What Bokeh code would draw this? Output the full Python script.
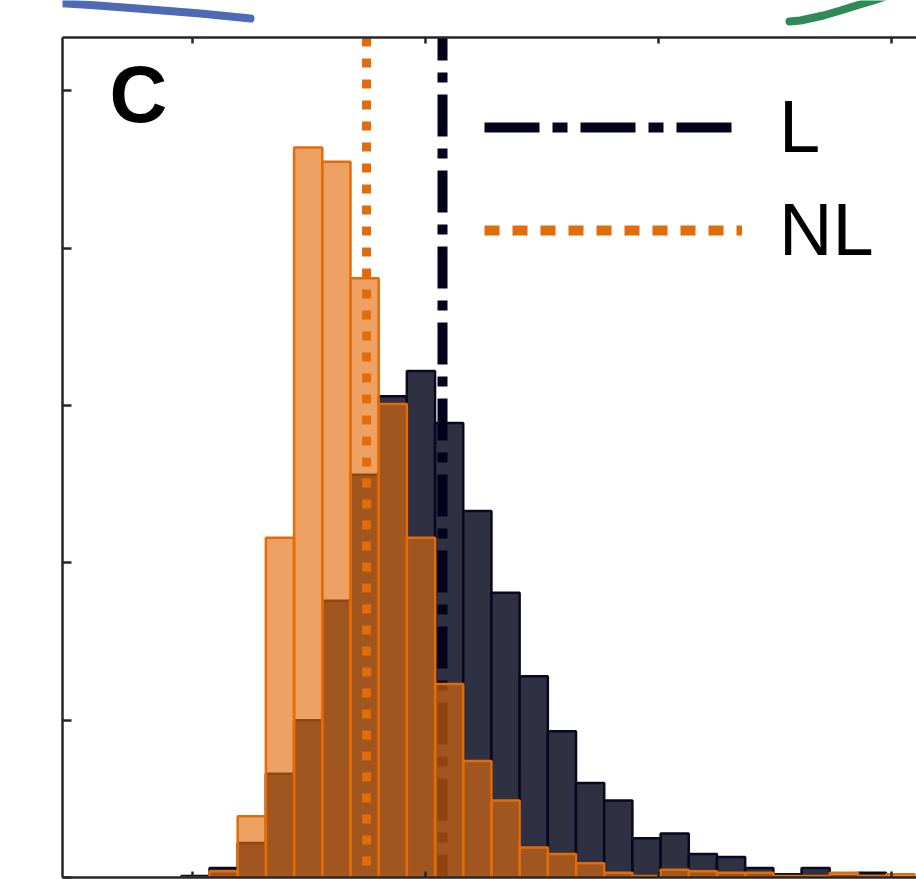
import numpy as np
from bokeh.plotting import figure
from bokeh.models import (Range1d, LinearAxis, FixedTicker, Legend, LegendItem,
                          Label, ColumnDataSource)
from bokeh.layouts import column
from bokeh.embed import file_html
from bokeh.resources import INLINE

# ---------------- data ----------------
PANEL = "C"
SERIES = ["L", "NL"]
BIN_START = 0.952
BIN_WIDTH = 0.121
L_COUNTS = [1, 6, 22, 66, 100, 176, 256, 306, 322, 289, 233, 181, 128, 93, 60,
            49, 25, 28, 15, 13, 6, 2, 6, 1, 3, 0]
NL_COUNTS = [0, 4, 39, 216, 464, 455, 381, 301, 216, 123, 74, 49, 19, 15, 9,
             3, 1, 5, 4, 3, 3, 1, 1, 3, 1, 2]
L_MEAN = 2.073
NL_MEAN = 1.747
X_TICKS = [1, 2, 3, 4]
Y_TICKS = [0, 100, 200, 300, 400, 500]
X_MIN, X_MAX = 0.4421, 4.1073
Y_MIN, Y_MAX = 0, 534

# fragments of neighbouring panels' curves peeking in above the frame
BLUE_X = [40, 90, 140, 200, 250]
BLUE_Y = [1.5, 4.5, 8.3, 13, 18.0]
GREEN_X = [789, 800, 823, 840, 856, 873, 885]
GREEN_Y = [21, 20, 15, 10, 5, 0, -4]

# ---------------- colours ----------------
L_FILL = "#2f3143"
L_EDGE = "#080820"
L_LINE = "#02021a"
NL_COL = "#e36c0a"
AX_COL = "#262626"
FONT = "Liberation Sans"

n = len(L_COUNTS)
left = BIN_START + BIN_WIDTH * np.arange(n)
right = left + BIN_WIDTH
src = ColumnDataSource(dict(left=left, right=right, L=L_COUNTS, NL=NL_COUNTS))

W = 916
LEFT_BORDER = 62

# ---------------- strip above the frame ----------------
strip = figure(width=W, height=33, x_range=Range1d(LEFT_BORDER, W),
               y_range=Range1d(33, 0), output_backend="svg",
               toolbar_location=None, x_axis_type=None, y_axis_type=None,
               min_border_left=LEFT_BORDER, min_border_right=0,
               min_border_top=0, min_border_bottom=0)
strip.outline_line_color = None
strip.line(BLUE_X, BLUE_Y, line_width=8, line_color="#4f6ab5", line_cap="round")
strip.line(GREEN_X, GREEN_Y, line_width=8, line_color="#2e8b57", line_cap="round")

# ---------------- main panel ----------------
p = figure(width=W, height=846, x_range=Range1d(X_MIN, X_MAX),
           y_range=Range1d(Y_MIN, Y_MAX), output_backend="svg",
           toolbar_location=None, x_axis_type=None, y_axis_type=None,
           min_border_left=LEFT_BORDER, min_border_right=0, min_border_top=4,
           min_border_bottom=2)
p.outline_line_color = None
p.background_fill_color = "white"


def style(ax, ticks, tick_len):
    ax.ticker = FixedTicker(ticks=ticks)
    ax.major_label_overrides = {t: "" for t in ticks}
    ax.major_tick_in = tick_len
    ax.major_tick_out = 0
    ax.minor_tick_in = 0
    ax.minor_tick_out = 0
    ax.major_label_text_font_size = "1px"
    ax.major_label_standoff = 0
    ax.axis_line_width = 2.5
    ax.axis_line_color = AX_COL
    ax.major_tick_line_width = 2.5
    ax.major_tick_line_color = AX_COL


for loc in ["below", "above"]:
    ax = LinearAxis()
    style(ax, X_TICKS, 6)
    p.add_layout(ax, loc)
ay = LinearAxis()
style(ay, Y_TICKS, 9)
p.add_layout(ay, "left")

# L histogram
p.quad(left="left", right="right", bottom=0, top="L", source=src,
       fill_color=L_FILL, line_color=L_EDGE, line_width=2.5)
# L mean line
p.segment(x0=L_MEAN, y0=Y_MAX, x1=L_MEAN, y1=Y_MIN, line_color=L_LINE,
          line_width=10, line_dash="42 12 10 12", line_dash_offset=19)
# NL histogram (semi-transparent on top)
p.quad(left="left", right="right", bottom=0, top="NL", source=src,
       fill_color=NL_COL, fill_alpha=0.63, line_color=NL_COL, line_width=2.5)
# NL mean line
p.segment(x0=NL_MEAN, y0=Y_MAX, x1=NL_MEAN, y1=Y_MIN, line_color=NL_COL,
          line_width=9, line_dash="9 12")

# legend samples (renderers with no visible data, used only for the key)
l_leg = p.line(x=[np.nan, np.nan], y=[np.nan, np.nan], line_color=L_LINE,
               line_width=10, line_dash="55 13 15 13")
nl_leg = p.line(x=[np.nan, np.nan], y=[np.nan, np.nan], line_color=NL_COL,
                line_width=10, line_dash="15 13")
legend = Legend(items=[LegendItem(label=SERIES[0], renderers=[l_leg]),
                       LegendItem(label=SERIES[1], renderers=[nl_leg])],
                location=(422, 605), orientation="vertical",
                glyph_width=258, glyph_height=80, label_height=80,
                label_standoff=37, spacing=18, padding=0, margin=0,
                border_line_color=None, background_fill_alpha=0,
                label_text_font=FONT, label_text_font_size="74px",
                label_text_color="black")
p.add_layout(legend)

p.add_layout(Label(x=0.644, y=497.5, text=PANEL, text_font=FONT,
                   text_font_style="bold", text_font_size="80px",
                   text_baseline="middle", text_align="left",
                   text_color="black"))

layout = column(strip, p, spacing=0)
open("out.html", "w").write(file_html(layout, INLINE))
